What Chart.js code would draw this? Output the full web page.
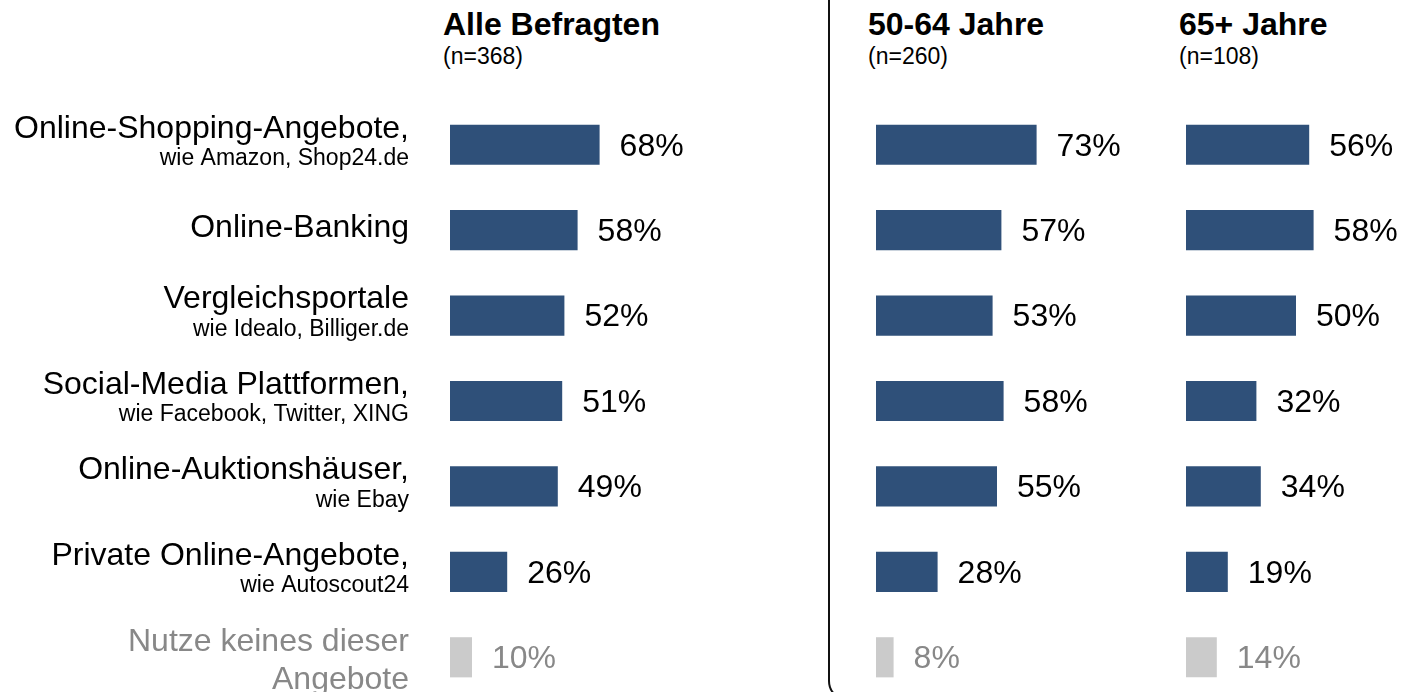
<!DOCTYPE html>
<html>
<head>
  <title>Nutzung von Online-Angeboten</title>
  <script src="https://cdn.jsdelivr.net/npm/chart.js"></script>
  <style>
    html, body {
      margin: 0;
      padding: 0;
      background: #fff;
      overflow: hidden;
    }
    .page {
      position: relative;
      width: 1402px;
      height: 692px;
      overflow: hidden;
      font-family: "Liberation Sans", Arial, sans-serif;
    }
    .panel {
      position: absolute;
      top: 0;
      height: 700px;
    }
    .head {
      position: absolute;
      top: 6px;
      color: #000;
    }
    .head b {
      display: block;
      font-size: 32px;
      line-height: 36px;
    }
    .head span {
      display: block;
      font-size: 23px;
      line-height: 28px;
    }
    .frame {
      position: absolute;
      left: 828px;
      top: -40px;
      width: 700px;
      height: 737px;
      border: 2px solid #111;
      border-radius: 20px;
    }
  </style>
</head>
<body>
  <div class="page">
    <div class="frame"></div>

    <div class="head" style="left:443px"><b>Alle Befragten</b><span>(n=368)</span></div>
    <div class="head" style="left:868px"><b>50-64 Jahre</b><span>(n=260)</span></div>
    <div class="head" style="left:1179px"><b>65+ Jahre</b><span>(n=108)</span></div>

    <div class="panel" style="left:0;width:800px"><canvas id="chartAll"></canvas></div>
    <div class="panel" style="left:876px;width:330px"><canvas id="chart5064"></canvas></div>
    <div class="panel" style="left:1186px;width:330px"><canvas id="chart65"></canvas></div>
  </div>

  <script>
    var categories = [
      'Online-Shopping-Angebote,',
      'Online-Banking',
      'Vergleichsportale',
      'Social-Media Plattformen,',
      'Online-Auktionshäuser,',
      'Private Online-Angebote,',
      'Nutze keines dieser'
    ];
    var subLabels = [
      'wie Amazon, Shop24.de',
      '',
      'wie Idealo, Billiger.de',
      'wie Facebook, Twitter, XING',
      'wie Ebay',
      'wie Autoscout24',
      'Angebote'
    ];

    var valuesAll = [68, 58, 52, 51, 49, 26, 10];
    var values5064 = [73, 57, 53, 58, 55, 28, 8];
    var values65 = [56, 58, 50, 32, 34, 19, 14];

    var BLUE = '#2f5079';
    var GREY_BAR = '#cbcbcb';
    var GREY_TEXT = '#888888';
    var FONT = '"Liberation Sans", Arial, sans-serif';

    function barColor(i) {
      return i === categories.length - 1 ? GREY_BAR : BLUE;
    }

    // percentage labels right of each bar
    var valueLabels = {
      id: 'valueLabels',
      afterDatasetsDraw: function(chart) {
        var ctx = chart.ctx;
        var meta = chart.getDatasetMeta(0);
        var data = chart.data.datasets[0].data;
        ctx.save();
        ctx.font = '32px ' + FONT;
        ctx.textAlign = 'left';
        ctx.textBaseline = 'middle';
        meta.data.forEach(function(bar, i) {
          ctx.fillStyle = i === categories.length - 1 ? GREY_TEXT : '#000';
          ctx.fillText(data[i] + '%', bar.x + 20, bar.y + 2);
        });
        ctx.restore();
      }
    };

    // category names left of the first panel
    var categoryLabels = {
      id: 'categoryLabels',
      afterDraw: function(chart) {
        var ctx = chart.ctx;
        var y = chart.scales.y;
        var x = chart.chartArea.left - 41;
        ctx.save();
        ctx.textAlign = 'right';
        ctx.textBaseline = 'middle';
        categories.forEach(function(name, i) {
          var cy = y.getPixelForValue(i);
          var last = i === categories.length - 1;
          ctx.fillStyle = last ? GREY_TEXT : '#000';
          ctx.font = '32px ' + FONT;
          if (!subLabels[i]) {
            ctx.fillText(name, x, cy - 2);
          } else if (last) {
            ctx.fillText(name, x, cy - 15);
            ctx.fillText(subLabels[i], x, cy + 23);
          } else {
            ctx.fillText(name, x, cy - 16);
            ctx.font = '23px ' + FONT;
            ctx.fillText(subLabels[i], x, cy + 14);
          }
        });
        ctx.restore();
      }
    };

    function makeChart(id, values, padLeft, padRight, withLabels) {
      var plugins = [valueLabels];
      if (withLabels) plugins.push(categoryLabels);
      return new Chart(document.getElementById(id), {
        type: 'bar',
        data: {
          labels: categories,
          datasets: [{
            data: values,
            backgroundColor: values.map(function(v, i) { return barColor(i); }),
            borderWidth: 0,
            barPercentage: 0.94,
            categoryPercentage: 0.5
          }]
        },
        options: {
          indexAxis: 'y',
          responsive: true,
          maintainAspectRatio: false,
          animation: false,
          layout: { padding: { left: padLeft, right: padRight, top: 102, bottom: 0 } },
          scales: {
            x: { display: false, min: 0, max: 150 },
            y: { display: false }
          },
          plugins: {
            legend: { display: false },
            tooltip: { enabled: false }
          }
        },
        plugins: plugins
      });
    }

    makeChart('chartAll', valuesAll, 450, 20, true);
    makeChart('chart5064', values5064, 0, 0, false);
    makeChart('chart65', values65, 0, 0, false);
  </script>
</body>
</html>
